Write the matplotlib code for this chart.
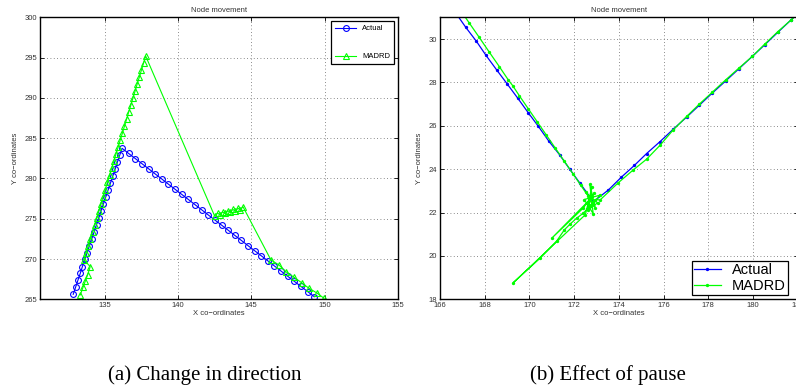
import matplotlib
matplotlib.use('Agg')
import matplotlib.pyplot as plt
import numpy as np

plt.rcParams['font.family'] = ['Liberation Sans', 'DejaVu Sans']

# --- (a) change in direction ---
act_a_x = [132.86, 133.02, 133.18, 133.34, 133.49, 133.65, 133.81, 133.97, 134.13, 134.29,
           134.45, 134.61, 134.76, 134.92, 135.08, 135.24, 135.40, 135.56, 135.72, 135.87,
           136.03, 136.19,
           136.64, 137.09, 137.55, 138.00, 138.45, 138.90, 139.35, 139.80, 140.26, 140.71,
           141.16, 141.61, 142.06, 142.51, 142.97, 143.42, 143.87, 144.32, 144.77, 145.22,
           145.68, 146.13, 146.58, 147.03, 147.48, 147.93, 148.39, 148.84, 149.29]
act_a_y = [265.62, 266.48, 267.35, 268.21, 269.07, 269.94, 270.80, 271.66, 272.52, 273.39,
           274.25, 275.11, 275.97, 276.84, 277.70, 278.56, 279.43, 280.29, 281.15, 282.01,
           282.88, 283.74,
           283.10, 282.47, 281.83, 281.20, 280.56, 279.93, 279.29, 278.66, 278.02, 277.39,
           276.75, 276.12, 275.48, 274.85, 274.21, 273.58, 272.94, 272.31, 271.67, 271.04,
           270.40, 269.77, 269.13, 268.50, 267.86, 267.23, 266.59, 265.96, 265.32]

mad_a_x = [133.34, 133.53, 133.69, 133.84, 134.02,
           133.60, 133.74, 133.89, 134.03, 134.18, 134.32, 134.47, 134.61, 134.76, 134.90,
           135.05, 135.19, 135.34, 135.48, 135.63, 135.77, 135.92, 136.06, 136.21, 136.35,
           136.50, 136.64, 136.79, 136.93, 137.08, 137.22, 137.37, 137.51, 137.66, 137.80,
           142.50, 142.70, 142.85, 143.05, 143.20, 143.40, 143.55, 143.75, 143.90, 144.10,
           144.25, 144.43,
           146.34, 146.89, 147.35, 147.92, 148.48, 148.94, 149.51, 149.96]
mad_a_y = [265.54, 266.49, 267.28, 268.02, 269.05,
           269.90, 270.77, 271.64, 272.52, 273.39, 274.26, 275.13, 276.01, 276.88, 277.75,
           278.62, 279.50, 280.37, 281.24, 282.11, 282.99, 283.86, 284.73, 285.60, 286.47,
           287.35, 288.22, 289.09, 289.96, 290.84, 291.71, 292.58, 293.45, 294.33, 295.20,
           275.34, 275.70, 275.50, 275.85, 275.65, 276.00, 275.80, 276.15, 275.95, 276.30,
           276.10, 276.50,
           269.88, 269.26, 268.43, 267.73, 266.99, 266.36, 265.74, 265.12]

# --- (b) effect of pause ---
act_b_x = [166.60, 167.15, 167.63, 168.06, 168.53, 169.01, 169.47, 169.94, 170.40, 170.86,
           171.35, 171.80, 172.26, 172.86,
           173.53, 174.10, 174.69, 175.24, 175.84, 176.43, 177.03, 177.60, 178.18, 178.78,
           179.37, 179.97, 180.53, 181.10, 181.68, 182.25]
act_b_y = [31.35, 30.54, 29.89, 29.24, 28.58, 27.92, 27.28, 26.61, 25.97, 25.30,
           24.66, 24.00, 23.35, 22.50,
           23.04, 23.62, 24.17, 24.72, 25.27, 25.84, 26.40, 26.95, 27.51, 28.07,
           28.63, 29.20, 29.74, 30.30, 30.86, 31.40]

mad_b_x = [166.90, 167.30, 167.75, 168.20, 168.65, 169.05, 169.25, 169.55, 169.95, 170.35,
           170.75, 171.15, 171.55, 171.95, 172.30, 172.63,
           172.55, 172.95, 172.70, 172.85, 172.45, 173.15, 172.60, 173.05, 172.75,
           171.02, 172.40, 172.90, 172.65, 172.80, 172.50,
           169.28, 170.47, 171.22, 171.56, 171.81, 172.11, 172.41, 172.70, 172.95,
           173.16, 173.98, 174.65, 175.24, 175.84, 176.43, 177.03, 177.60, 178.18, 178.78,
           179.37, 179.97, 180.53, 181.10, 181.68, 182.20]
mad_b_y = [31.35, 30.75, 30.08, 29.40, 28.73, 28.12, 27.85, 27.38, 26.78, 26.18,
           25.58, 24.98, 24.38, 23.78, 23.25, 22.75,
           22.95, 22.20, 23.30, 21.95, 22.60, 22.80, 22.10, 22.45, 22.65,
           20.84, 22.20, 22.90, 22.35, 23.20, 21.90,
           18.77, 19.89, 20.69, 21.20, 21.46, 21.74, 21.97, 22.30, 22.60,
           22.58, 23.38, 23.97, 24.46, 25.10, 25.81, 26.43, 27.00, 27.55, 28.12,
           28.66, 29.20, 29.77, 30.33, 30.86, 31.35]

fig = plt.figure(figsize=(7.96, 3.89), dpi=100)
ax1 = fig.add_axes([0.0503, 0.2306, 0.4497, 0.7249])
ax2 = fig.add_axes([0.5528, 0.2306, 0.4494, 0.7249])

blue = '#0000ff'
green = '#00ff00'
tc = '#333333'

ax1.plot(act_a_x, act_a_y, '-o', color=blue, lw=0.8, ms=4.2, mfc='none', mew=0.8, label='Actual')
ax1.plot(mad_a_x, mad_a_y, '-^', color=green, lw=0.8, ms=4.5, mfc='none', mew=0.8, label='MADRD')
ax1.set_xlim(130.6, 155)
ax1.set_ylim(265, 300)
ax1.set_xticks(np.arange(135, 156, 5))
ax1.set_yticks(np.arange(265, 301, 5))
leg1 = ax1.legend(loc='upper right', fontsize=5.5, labelspacing=2.7, handlelength=2.8,
                  borderpad=0.5, fancybox=False, framealpha=1, borderaxespad=0.5)

ax2.plot(act_b_x, act_b_y, '.-', color=blue, lw=0.9, ms=2.8, label='Actual')
ax2.plot(mad_b_x, mad_b_y, '.-', color=green, lw=0.9, ms=2.8, label='MADRD')
ax2.set_xlim(166, 182)
ax2.set_ylim(18, 31)
ax2.set_xticks(np.arange(166, 183, 2))
ax2.set_yticks(np.arange(18, 31, 2))
leg2 = ax2.legend(loc='lower right', bbox_to_anchor=(0.9735, 0.015), fontsize=10.5,
                  labelspacing=0.1, handlelength=1.8, borderpad=0.15, handletextpad=0.8,
                  fancybox=False, framealpha=1, borderaxespad=0)

for leg in (leg1, leg2):
    leg.get_frame().set_edgecolor('black')
    leg.get_frame().set_linewidth(0.9)

for ax in (ax1, ax2):
    ax.grid(True, linestyle=(0, (1, 3)), color='#666666', lw=0.6)
    ax.tick_params(direction='in', top=True, right=True, length=3, width=0.6,
                   labelsize=5.5, labelcolor=tc, pad=2)
    for s in ax.spines.values():
        s.set_linewidth(1.0)
    ax.set_title('Node movement', fontsize=5.5, color=tc, pad=4)
    ax.set_xlabel('X co\u2212ordinates', fontsize=5.5, color=tc, labelpad=1)
    ax.set_ylabel('Y co\u2212ordinates', fontsize=5.5, color=tc, labelpad=4)

fig.text(205 / 796, 1 - 380 / 389, '(a) Change in direction', ha='center', va='baseline',
         fontsize=15, family='Liberation Serif')
fig.text(608 / 796, 1 - 380 / 389, '(b) Effect of pause', ha='center', va='baseline',
         fontsize=15, family='Liberation Serif')

fig.savefig('out.png', dpi=100)
